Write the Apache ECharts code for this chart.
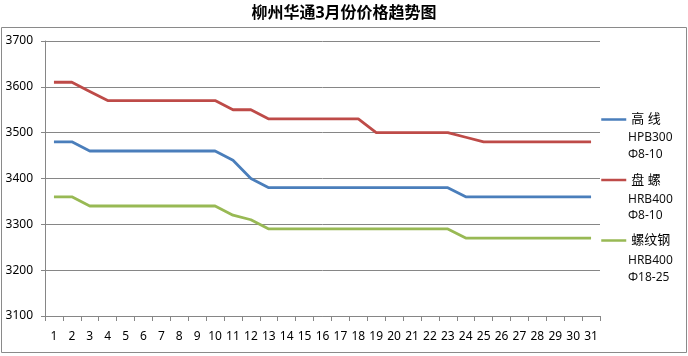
<!DOCTYPE html>
<html><head><meta charset="utf-8">
<script src="https://cdn.jsdelivr.net/npm/echarts@6/dist/echarts.min.js"></script>
<style>html,body{margin:0;padding:0;background:#fff}#c{width:688px;height:356px}</style>
</head><body><div id="c"></div>
<script>
const title = '柳州华通3月份价格趋势图';
const days = ['1','2','3','4','5','6','7','8','9','10','11','12','13','14','15','16','17','18','19','20','21','22','23','24','25','26','27','28','29','30','31'];
const seriesNames = ['高 线', '盘 螺', '螺纹钢'];
const seriesSpecs = [['HPB300', 'Φ8-10'], ['HRB400', 'Φ8-10'], ['HRB400', 'Φ18-25']];
const gaoxian = [3480,3480,3460,3460,3460,3460,3460,3460,3460,3460,3440,3400,3380,3380,3380,3380,3380,3380,3380,3380,3380,3380,3380,3360,3360,3360,3360,3360,3360,3360,3360];
const panluo = [3610,3610,3590,3570,3570,3570,3570,3570,3570,3570,3550,3550,3530,3530,3530,3530,3530,3530,3500,3500,3500,3500,3500,3490,3480,3480,3480,3480,3480,3480,3480];
const luowengang = [3360,3360,3340,3340,3340,3340,3340,3340,3340,3340,3320,3310,3290,3290,3290,3290,3290,3290,3290,3290,3290,3290,3290,3270,3270,3270,3270,3270,3270,3270,3270];
const yTicks = [3100, 3700, 100];
const colors = ['#4A7EBB', '#BE4B48', '#98B954'];

const font = '"Noto Sans", "Noto Sans CJK SC", sans-serif';
const chart = echarts.init(document.getElementById('c'));
const allData = [gaoxian, panluo, luowengang];
const legendTop = 113, legendStep = 61.5;
const graphics = [{
  type: 'rect', shape: {x: 1.5, y: 27.5, width: 685, height: 325},
  style: {fill: 'none', stroke: '#8a8a8a', lineWidth: 1}, silent: true
}];
seriesSpecs.forEach((spec, i) => {
  spec.forEach((t, j) => {
    graphics.push({
      type: 'text', left: 628, top: legendTop + 7 + i * legendStep + 12 + j * 16.5,
      style: {text: t, font: '12px ' + font, fill: '#111'}
    });
  });
});
chart.setOption({
  animation: false,
  title: {text: title, left: 'center', top: 0,
    textStyle: {fontSize: 16, fontWeight: 'bold', color: '#000', fontFamily: font}},
  grid: {left: 45, right: 88, top: 41, bottom: 40, containLabel: false},
  legend: {
    orient: 'vertical', left: 600, top: legendTop, padding: 0,
    itemWidth: 25, itemHeight: 14, itemGap: legendStep - 14,
    itemStyle: {opacity: 0},
    lineStyle: {width: 2.5},
    textStyle: {fontSize: 13, color: '#000', fontFamily: font},
    data: seriesNames
  },
  xAxis: {
    type: 'category', data: days, boundaryGap: true,
    axisLine: {lineStyle: {color: '#868686', width: 1}},
    axisTick: {show: true, length: 5, lineStyle: {color: '#868686'}},
    axisLabel: {color: '#000', fontSize: 12, margin: 15, interval: 0, fontFamily: font}
  },
  yAxis: {
    type: 'value', min: yTicks[0], max: yTicks[1], interval: yTicks[2],
    axisLine: {show: true, lineStyle: {color: '#868686', width: 1}},
    axisTick: {show: true, length: 4, lineStyle: {color: '#868686'}},
    splitLine: {lineStyle: {color: '#868686', width: 1}},
    axisLabel: {color: '#000', fontSize: 12, margin: 12, fontFamily: font,
      formatter: v => String(v)}
  },
  series: seriesNames.map((n, i) => ({
    name: n, type: 'line', data: allData[i], symbol: 'none', showSymbol: false,
    lineStyle: {color: colors[i], width: 2.8}, itemStyle: {color: colors[i]}
  })),
  graphic: graphics
});
</script></body></html>
